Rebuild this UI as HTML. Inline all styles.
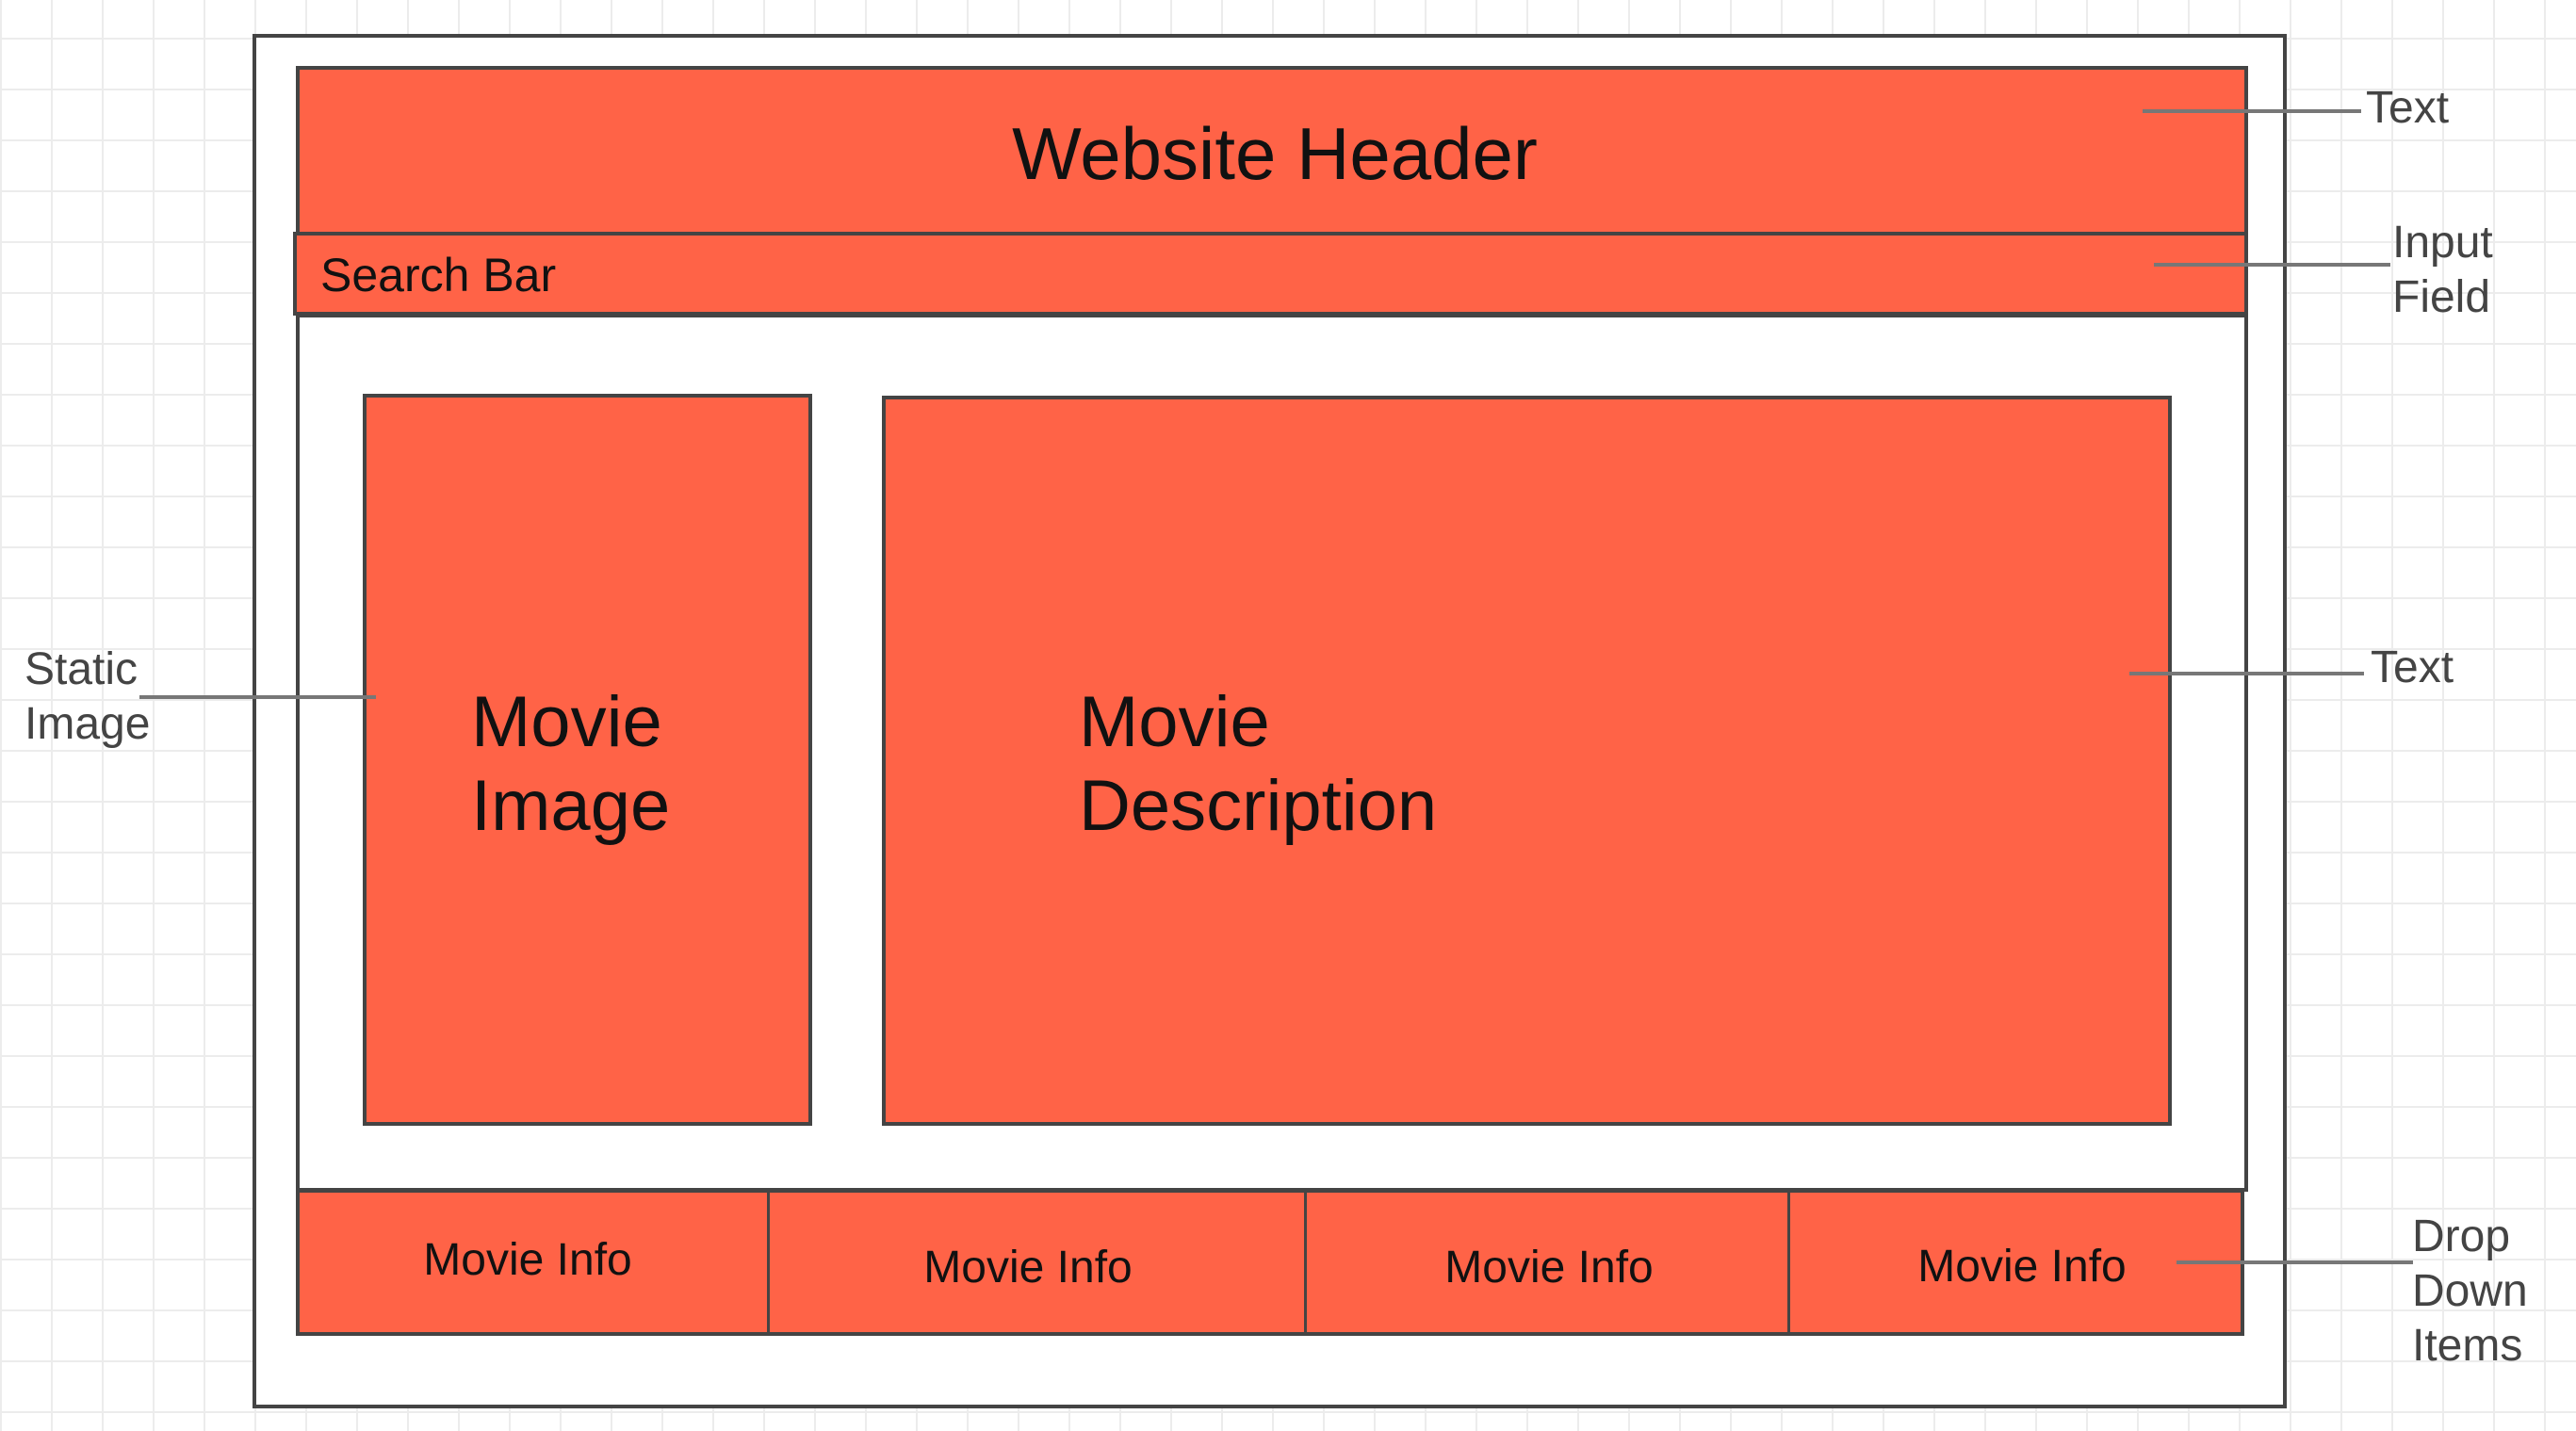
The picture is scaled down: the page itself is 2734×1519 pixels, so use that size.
<!DOCTYPE html>
<html><head><meta charset="utf-8"><style>
body{margin:0;width:2734px;height:1519px;position:relative;overflow:hidden;background:#fff;font-family:"Liberation Sans",sans-serif;}
.b{position:absolute;box-sizing:border-box;border:4px solid #444;}
.r{background:#ff6347;}
.t{position:absolute;white-space:nowrap;color:#111;}
.a{position:absolute;color:#444;font-size:48px;line-height:58px;}
.l{position:absolute;height:4px;background:#777;}
</style></head><body>
<svg width="2734" height="1519" style="position:absolute;left:0;top:0">
<defs>
<pattern id="g" x="0" y="40" width="54" height="54" patternUnits="userSpaceOnUse">
<path d="M0 0H54M0 0V54" stroke="#ececec" stroke-width="4" fill="none"/>
</pattern>
</defs>
<rect x="0" y="0" width="2734" height="1519" fill="url(#g)"/>
</svg>
<div class="b" style="left:268px;top:36px;width:2159px;height:1459px;background:#fff"></div>
<div class="b" style="left:314px;top:333px;width:2072px;height:932px;background:#fff"></div>
<div class="b r" style="left:314px;top:70px;width:2072px;height:180px"></div>
<div class="b r" style="left:311px;top:246px;width:2075px;height:89px"></div>
<div class="b r" style="left:385px;top:418px;width:477px;height:777px"></div>
<div class="b r" style="left:936px;top:420px;width:1369px;height:775px"></div>
<div class="b r" style="left:314px;top:1262px;width:2068px;height:156px"></div>
<div class="l" style="left:814px;top:1264px;width:3px;height:152px;background:#444"></div>
<div class="l" style="left:1384px;top:1264px;width:3px;height:152px;background:#444"></div>
<div class="l" style="left:1897px;top:1264px;width:3px;height:152px;background:#444"></div>

<div class="t" style="left:0;width:2706px;text-align:center;top:118px;font-size:78px">Website Header</div>
<div class="t" style="left:340px;top:263px;font-size:50px">Search Bar</div>
<div class="t" style="left:500px;top:722px;font-size:76px;line-height:89px">Movie<br>Image</div>
<div class="t" style="left:1145px;top:722px;font-size:76px;line-height:89px">Movie<br>Description</div>
<div class="t" style="left:360px;width:400px;text-align:center;top:1310px;font-size:48px">Movie Info</div>
<div class="t" style="left:891px;width:400px;text-align:center;top:1318px;font-size:48px">Movie Info</div>
<div class="t" style="left:1444px;width:400px;text-align:center;top:1318px;font-size:48px">Movie Info</div>
<div class="t" style="left:1946px;width:400px;text-align:center;top:1317px;font-size:48px">Movie Info</div>

<div class="l" style="left:2274px;top:116px;width:232px"></div>
<div class="a" style="left:2511px;top:86px">Text</div>
<div class="l" style="left:2286px;top:279px;width:251px"></div>
<div class="a" style="left:2539px;top:229px">Input<br>Field</div>
<div class="l" style="left:148px;top:738px;width:251px"></div>
<div class="a" style="left:26px;top:682px">Static<br>Image</div>
<div class="l" style="left:2260px;top:713px;width:249px"></div>
<div class="a" style="left:2516px;top:680px">Text</div>
<div class="l" style="left:2310px;top:1338px;width:251px"></div>
<div class="a" style="left:2560px;top:1284px">Drop<br>Down<br>Items</div>
</body></html>
